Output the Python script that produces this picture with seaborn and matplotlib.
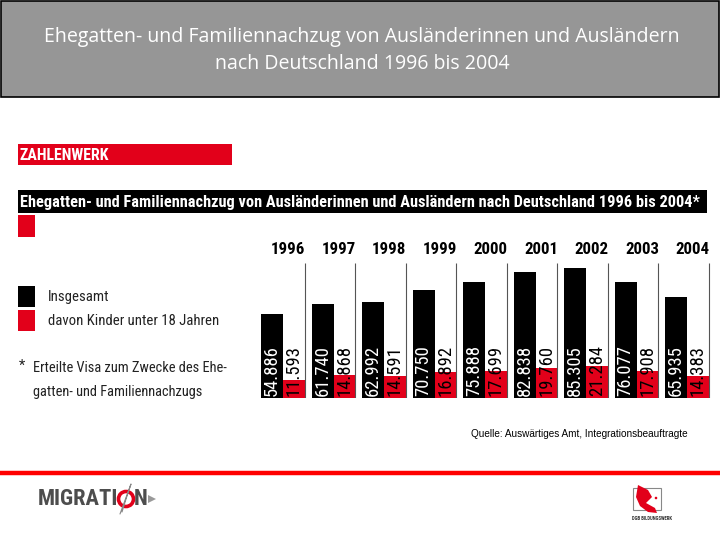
import numpy as np
import pandas as pd
import seaborn as sns
import matplotlib.pyplot as plt
import matplotlib.font_manager as fm
from matplotlib.patches import Rectangle, Polygon, Circle

years = ["1996", "1997", "1998", "1999", "2000", "2001", "2002", "2003", "2004"]
insgesamt = [54886, 61740, 62992, 70750, 75888, 82838, 85305, 76077, 65935]
kinder = [11593, 14868, 14591, 16892, 17699, 19760, 21284, 17908, 14383]
series = ["Insgesamt", "davon Kinder unter 18 Jahren"]
colors = ["#000000", "#e2001a"]

df = pd.DataFrame({"Jahr": years * 2,
                   "Anzahl": insgesamt + kinder,
                   "Gruppe": [series[0]] * len(years) + [series[1]] * len(years)})

sns.set_style("white")
names = {f.name for f in fm.fontManager.ttflist}
narrow = next((n for n in ["Liberation Sans Narrow", "Roboto Condensed"] if n in names), "Roboto")
plt.rcParams["font.family"] = [narrow, "DejaVu Sans"]

W, H = 720, 540
fig = plt.figure(figsize=(7.2, 5.4), dpi=100)
renderer = fig.canvas.get_renderer()


def box(x0, y0, x1, y1):
    return [x0 / W, 1 - y1 / H, (x1 - x0) / W, (y1 - y0) / H]


def fit(t, width):
    w = t.get_window_extent(renderer).width
    t.set_fontsize(t.get_fontsize() * width / w)
    return t.get_fontsize()


def fmt(v):
    return f"{v:,}".replace(",", ".")


# background layer in pixel coords
bg = fig.add_axes([0, 0, 1, 1])
bg.set_xlim(0, W)
bg.set_ylim(H, 0)
bg.axis("off")
bg.set_zorder(0)

bg.add_patch(Rectangle((0.5, 0.5), 718.5, 96, fc="#969696", ec="black", lw=1.2))
t = bg.text(362, 37, "Ehegatten- und Familiennachzug von Ausländerinnen und Ausländern",
            ha="center", va="center", color="white", family="Open Sans", fontsize=14)
fs = fit(t, 638)
bg.text(362, 64, "nach Deutschland 1996 bis 2004", ha="center", va="center",
        color="white", family="Open Sans", fontsize=fs)

bg.add_patch(Rectangle((18, 144), 214, 21, fc=colors[1], ec="none"))
t = bg.text(19, 155, "ZAHLENWERK", ha="left", va="center", color="white",
            fontweight="bold", fontsize=11)
fit(t, 90)

bg.add_patch(Rectangle((18, 190), 689, 23, fc="black", ec="none"))
t = bg.text(20, 202, "Ehegatten- und Familiennachzug von Ausländerinnen und Ausländern "
            "nach Deutschland 1996 bis 2004*", ha="left", va="center", color="white",
            fontweight="bold", fontsize=11)
fit(t, 680)
bg.add_patch(Rectangle((18, 215), 17, 22, fc=colors[1], ec="none"))

# legend
for j, (lab, c) in enumerate(zip(series, colors)):
    y = 286 + 24 * j
    bg.add_patch(Rectangle((18, y), 17, 21, fc=c, ec="none"))
t1 = bg.text(48, 297, series[0], ha="left", va="center", color="#222222", fontsize=11)
t2 = bg.text(48, 321, series[1], ha="left", va="center", color="#222222", fontsize=11)
fs = fit(t2, 170)
t1.set_fontsize(fs)

bg.text(19, 366, "*", ha="left", va="center", color="#222222", fontsize=fs)
t = bg.text(33, 368, "Erteilte Visa zum Zwecke des Ehe-", ha="left", va="center",
            color="#222222", fontsize=fs)
fs2 = fit(t, 195)
bg.text(33, 392, "gatten- und Familiennachzugs", ha="left", va="center",
        color="#222222", fontsize=fs2)

t = bg.text(688, 434, "Quelle: Auswärtiges Amt, Integrationsbeauftragte", ha="right",
            va="center", color="black", family="Liberation Sans", fontsize=7)
fit(t, 218)

bg.plot([0, W], [473, 473], color="#ff0000", lw=3.2, solid_capstyle="butt")

# logos
t = bg.text(38, 499, "MIGRATI", ha="left", va="center", color="#4d4d4d",
            fontweight="bold", fontsize=12)
mfs = fit(t, 80)
bg.add_patch(Circle((126, 499), 7.5, fill=False, ec=colors[1], lw=2.6))
bg.plot([120, 131, 126, 122], [514, 484, 499, 512], color="#888888", lw=0.8)
bg.text(134, 499, "N", ha="left", va="center", color="#4d4d4d",
        fontweight="bold", fontsize=mfs)
bg.add_patch(Polygon([(148, 495), (156, 499), (148, 503)], fc="#999999", ec="none"))

bg.add_patch(Rectangle((633, 488), 28, 22, fill=False, ec="#888888", lw=0.8))
bg.add_patch(Polygon([(638, 485), (648, 490), (652, 497), (646, 503), (655, 508),
                      (657, 513), (648, 512), (640, 506), (636, 497)],
                     fc=colors[1], ec="none"))
bg.add_patch(Circle((656, 498), 1.3, fc=colors[1], ec="none"))
t = bg.text(652, 518, "DGB BILDUNGSWERK", ha="center", va="center", color="#333333",
            fontweight="bold", fontsize=4)
fit(t, 40)

# bar chart
k = 0.001525  # pixels per person
top, base = 230, 398
ax = fig.add_axes(box(257.75, top, 712.25, base))
ax.set_zorder(1)
ax.patch.set_alpha(0)
bw = 0.87
sns.barplot(data=df, x="Jahr", y="Anzahl", hue="Gruppe", hue_order=series,
            palette=colors, width=bw, gap=0, saturation=1, linewidth=0,
            errorbar=None, legend=False, ax=ax)
ax.set_xlim(-0.5, len(years) - 0.5)
ax.set_ylim(0, (base - top) / k)
ax.set_xticks([])
ax.set_yticks([])
ax.set_xlabel("")
ax.set_ylabel("")
sns.despine(ax=ax, left=True, bottom=True)

pos = np.arange(len(years))
ax.vlines(pos + bw / 2, 0, (base - 263) / k, color="#555555", lw=0.8)

probe = ax.text(0, 0, "1996", fontweight="bold", fontsize=12)
yfs = fit(probe, 34)
probe.remove()
probe = ax.text(0, 0, "54.886", fontsize=12)
nfs = fit(probe, 51)
probe.remove()

for i in pos:
    ax.text(i + bw / 2 + 0.01, (base - 250) / k, years[i], ha="right", va="center",
            fontweight="bold", fontsize=yfs, color="black")
    ax.text(i - bw / 4, 2 / k, fmt(insgesamt[i]), rotation=90, ha="center",
            va="bottom", color="white", fontsize=nfs)
    ax.text(i + bw / 4, 2 / k, fmt(kinder[i]), rotation=90, ha="center",
            va="bottom", color="black", fontsize=nfs)

fig.savefig("out.png", dpi=100)
